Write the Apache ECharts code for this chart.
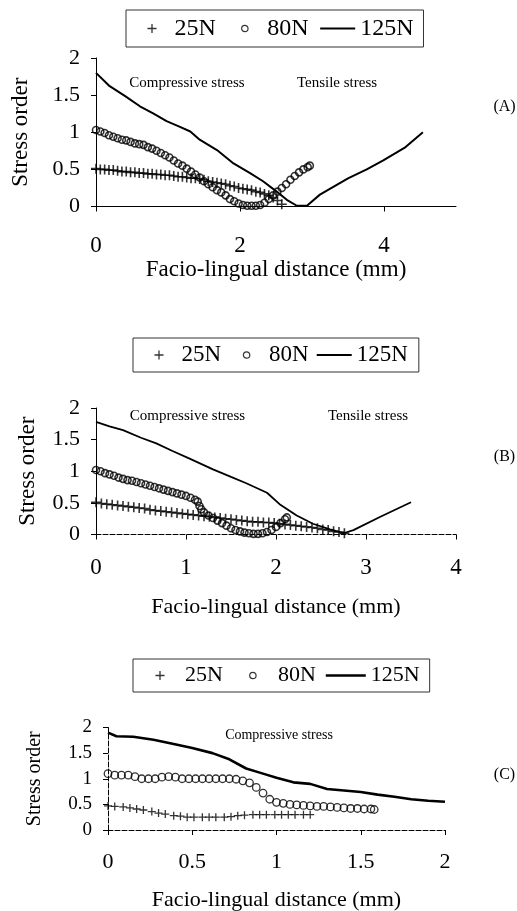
<!DOCTYPE html>
<html><head><meta charset="utf-8">
<script src="https://cdn.jsdelivr.net/npm/echarts@6/dist/echarts.min.js"></script>
<style>html,body{margin:0;padding:0;background:#fff}#c{width:517px;height:911px}</style>
</head><body><div id="c"></div>
<script>
const seriesNames = ['25N', '80N', '125N'];
const yTicks = [0, 0.5, 1, 1.5, 2];
const xTicksA = [0, 2, 4];
const xTicksB = [0, 1, 2, 3, 4];
const xTicksC = [0, 0.5, 1, 1.5, 2];
const panelLabels = ['(A)', '(B)', '(C)'];
const xTitle = 'Facio-lingual distance (mm)';
const yTitle = 'Stress order';
const noteComp = 'Compressive stress';
const noteTens = 'Tensile stress';

// Panel A
const a25 = [[0,0.51],[0.06,0.5],[0.12,0.5],[0.18,0.49],[0.24,0.49],[0.3,0.48],[0.36,0.47],[0.42,0.47],[0.48,0.46],[0.54,0.46],[0.6,0.45],[0.66,0.45],[0.72,0.44],[0.78,0.44],[0.84,0.43],[0.9,0.43],[0.96,0.42],[1.02,0.42],[1.08,0.41],[1.14,0.4],[1.2,0.4],[1.26,0.39],[1.32,0.38],[1.38,0.38],[1.44,0.37],[1.5,0.36],[1.56,0.34],[1.62,0.33],[1.68,0.32],[1.74,0.31],[1.8,0.3],[1.86,0.28],[1.92,0.27],[1.98,0.25],[2.04,0.24],[2.1,0.23],[2.16,0.22],[2.22,0.2],[2.28,0.19],[2.34,0.17],[2.4,0.15],[2.46,0.12],[2.52,0.08],[2.58,0.03]];
const a80 = [[0,1.03],[0.06,1.01],[0.12,0.99],[0.18,0.96],[0.24,0.94],[0.3,0.92],[0.36,0.9],[0.42,0.89],[0.48,0.87],[0.54,0.85],[0.6,0.84],[0.66,0.83],[0.72,0.8],[0.78,0.78],[0.84,0.75],[0.9,0.72],[0.96,0.69],[1.02,0.66],[1.08,0.62],[1.14,0.58],[1.2,0.55],[1.26,0.51],[1.32,0.47],[1.38,0.43],[1.44,0.39],[1.5,0.34],[1.56,0.3],[1.62,0.26],[1.68,0.22],[1.74,0.19],[1.8,0.15],[1.86,0.1],[1.92,0.07],[1.98,0.04],[2.04,0.02],[2.1,0.01],[2.16,0.01],[2.22,0.01],[2.28,0.02],[2.34,0.05],[2.4,0.1],[2.46,0.15],[2.52,0.2],[2.58,0.25],[2.64,0.3],[2.7,0.36],[2.76,0.41],[2.82,0.46],[2.88,0.5],[2.94,0.53],[2.97,0.55]];
const a125 = [[0,1.8],[0.19,1.62],[0.4,1.49],[0.61,1.35],[0.8,1.25],[0.98,1.15],[1.15,1.08],[1.31,1.01],[1.44,0.9],[1.68,0.76],[1.91,0.58],[2.14,0.45],[2.32,0.34],[2.51,0.2],[2.65,0.09],[2.79,0.01],[2.93,0.01],[3.11,0.16],[3.5,0.38],[3.76,0.5],[3.99,0.62],[4.3,0.8],[4.54,1.0]];

// Panel B
const b25 = [[0,0.51],[0.06,0.49],[0.12,0.48],[0.18,0.47],[0.24,0.46],[0.3,0.45],[0.36,0.44],[0.42,0.43],[0.48,0.42],[0.54,0.41],[0.6,0.39],[0.66,0.38],[0.72,0.37],[0.78,0.36],[0.84,0.35],[0.9,0.34],[0.96,0.33],[1.02,0.32],[1.08,0.31],[1.14,0.3],[1.2,0.29],[1.26,0.28],[1.32,0.27],[1.38,0.26],[1.44,0.25],[1.5,0.24],[1.56,0.23],[1.62,0.22],[1.68,0.21],[1.74,0.2],[1.8,0.2],[1.86,0.19],[1.92,0.19],[1.98,0.18],[2.04,0.17],[2.1,0.16],[2.16,0.15],[2.22,0.14],[2.28,0.13],[2.34,0.12],[2.4,0.11],[2.46,0.1],[2.52,0.08],[2.58,0.07],[2.64,0.05],[2.7,0.04],[2.76,0.02]];
const b80 = [[0,1.02],[0.05,1.0],[0.1,0.97],[0.15,0.95],[0.2,0.93],[0.25,0.9],[0.3,0.88],[0.35,0.86],[0.4,0.85],[0.45,0.83],[0.5,0.81],[0.55,0.79],[0.6,0.77],[0.65,0.75],[0.7,0.73],[0.75,0.71],[0.8,0.69],[0.85,0.67],[0.9,0.65],[0.95,0.63],[1.0,0.61],[1.05,0.58],[1.1,0.55],[1.13,0.52],[1.15,0.45],[1.17,0.4],[1.2,0.35],[1.25,0.3],[1.3,0.26],[1.35,0.22],[1.4,0.18],[1.45,0.14],[1.5,0.1],[1.55,0.07],[1.6,0.05],[1.65,0.03],[1.7,0.02],[1.75,0.01],[1.8,0.01],[1.85,0.02],[1.9,0.04],[1.95,0.07],[2.0,0.12],[2.05,0.18],[2.1,0.24],[2.12,0.27]];
const b125 = [[0,1.78],[0.15,1.71],[0.3,1.65],[0.5,1.53],[0.67,1.44],[0.85,1.32],[1.04,1.2],[1.3,1.03],[1.5,0.91],[1.67,0.81],[1.9,0.66],[2.04,0.48],[2.23,0.3],[2.41,0.17],[2.6,0.08],[2.75,0.02],[2.86,0.07],[3.16,0.28],[3.5,0.51]];

// Panel C
const c25 = [[0,0.47],[0.04,0.46],[0.09,0.45],[0.13,0.43],[0.17,0.41],[0.21,0.39],[0.26,0.36],[0.3,0.33],[0.34,0.31],[0.39,0.28],[0.43,0.27],[0.47,0.25],[0.51,0.25],[0.56,0.25],[0.6,0.25],[0.64,0.25],[0.69,0.25],[0.73,0.26],[0.77,0.28],[0.81,0.29],[0.86,0.3],[0.9,0.3],[0.94,0.3],[0.99,0.3],[1.03,0.3],[1.07,0.3],[1.11,0.3],[1.16,0.3],[1.2,0.3]];
const c80 = [[0,1.1],[0.04,1.07],[0.08,1.07],[0.12,1.07],[0.16,1.04],[0.2,1.0],[0.24,1.0],[0.28,1.0],[0.32,1.03],[0.36,1.04],[0.4,1.03],[0.44,1.0],[0.48,1.0],[0.52,1.0],[0.56,1.0],[0.6,1.0],[0.64,1.0],[0.68,1.0],[0.72,1.0],[0.76,0.99],[0.8,0.96],[0.84,0.92],[0.88,0.83],[0.92,0.72],[0.96,0.6],[1.0,0.54],[1.04,0.52],[1.08,0.5],[1.12,0.49],[1.16,0.48],[1.2,0.47],[1.24,0.46],[1.28,0.46],[1.32,0.45],[1.36,0.44],[1.4,0.43],[1.44,0.42],[1.48,0.42],[1.52,0.41],[1.56,0.41],[1.58,0.4]];
const c125 = [[0,1.9],[0.05,1.83],[0.15,1.82],[0.27,1.76],[0.39,1.68],[0.5,1.6],[0.62,1.5],[0.72,1.38],[0.82,1.2],[0.92,1.1],[1.0,1.02],[1.1,0.93],[1.2,0.9],[1.3,0.8],[1.4,0.77],[1.5,0.74],[1.6,0.69],[1.7,0.65],[1.8,0.6],[1.9,0.57],[2.0,0.55]];

const FONT = '"Liberation Serif", "Times New Roman", serif';
const plusSym = 'path://M5 0 L5 10 M0 5 L10 5';
// legend icons: invisible corner points give every icon the same w x 9 box
function box(w) { return 'M0 0 L0 0 M' + w + ' 9 L' + w + ' 9 '; }
function plusIcon(w) { const c = w / 2; return 'path://' + box(w) + 'M' + c + ' 0 L' + c + ' 9 M' + (c - 4.5) + ' 4.5 L' + (c + 4.5) + ' 4.5'; }
function circleIcon(w) { const c = w / 2, r = 3.2; return 'path://' + box(w) + 'M' + (c - r) + ' 4.5 A' + r + ' ' + r + ' 0 1 0 ' + (c + r) + ' 4.5 A' + r + ' ' + r + ' 0 1 0 ' + (c - r) + ' 4.5 Z'; }
function lineIcon(w) { return 'path://' + box(w) + 'M0 4.5 L' + w + ' 4.5'; }

const panels = [
  { grid: {left: 96, top: 58, width: 360, height: 148.5}, xMax: 5, xInt: 2, xTicks: xTicksA,
    xLab: 23, xMargin: 28, xNameGap: 49, xName: 23, yLab: 22, yNameGap: 64, yName: 23, axisDash: false,
    legend: {left: 126, top: 10, font: 24, iw: 35, gap: 9, pad: [6, 10, 6, 6], lw: 2},
    s: [a25, a80, a125], plus: 10, circ: 7, mw: 1.6, lw: 2,
    notes: [[noteComp, 187, 83], [noteTens, 337, 83]], noteSize: 15, lab: [504.5, 107] },
  { grid: {left: 96, top: 408, width: 360, height: 126.5}, xMax: 4, xInt: 1, xTicks: xTicksB,
    xLab: 23, xMargin: 22, xNameGap: 62, xName: 22, yLab: 22, yNameGap: 57, yName: 23, axisDash: true,
    legend: {left: 133, top: 338, font: 23, iw: 35, gap: 5.5, pad: [5, 11, 5, 6], lw: 2},
    s: [b25, b80, b125], plus: 10, circ: 7, mw: 1.6, lw: 1.8,
    notes: [[noteComp, 187.5, 416.5], [noteTens, 368, 416.5]], noteSize: 15, lab: [504.5, 456.5] },
  { grid: {left: 108, top: 727.5, width: 337, height: 102.5}, xMax: 2, xInt: 0.5, xTicks: xTicksC,
    xLab: 22, xMargin: 21, xNameGap: 59, xName: 22, yLab: 19, yNameGap: 63, yName: 20, axisDash: true,
    legend: {left: 133, top: 659, font: 22, iw: 40, gap: 7.5, pad: [5, 10, 5, 4.5], lw: 2.6},
    s: [c25, c80, c125], plus: 8, circ: 7.5, mw: 1.3, lw: 2.6,
    notes: [[noteComp, 279, 735]], noteSize: 14, lab: [504.5, 775] }
];

const option = {
  animation: false,
  backgroundColor: '#fff',
  grid: [], xAxis: [], yAxis: [], series: [], legend: [], graphic: []
};

panels.forEach((p, i) => {
  option.grid.push(Object.assign({outerBoundsMode: 'none', containLabel: false}, p.grid));
  const axLine = {show: true, lineStyle: {color: '#000', width: 1, type: p.axisDash ? [5, 2] : 'solid'}};
  option.xAxis.push({
    type: 'value', gridIndex: i, min: 0, max: p.xMax, interval: p.xInt,
    axisLine: axLine, splitLine: {show: false},
    axisTick: {show: true, length: 5, lineStyle: {color: '#000'}, customValues: p.xTicks},
    axisLabel: {color: '#000', fontFamily: FONT, fontSize: p.xLab, margin: p.xMargin, customValues: p.xTicks},
    name: xTitle, nameLocation: 'middle', nameGap: p.xNameGap,
    nameTextStyle: {color: '#000', fontFamily: FONT, fontSize: p.xName}
  });
  option.yAxis.push({
    type: 'value', gridIndex: i, min: 0, max: 2, interval: 0.5,
    axisLine: {show: true, lineStyle: {color: '#000', width: 1, type: i === 2 ? [5, 2] : 'solid'}},
    splitLine: {show: false},
    axisTick: {show: true, length: 5, lineStyle: {color: '#000'}, customValues: yTicks},
    axisLabel: {color: '#000', fontFamily: FONT, fontSize: p.yLab, margin: 16, customValues: yTicks},
    name: yTitle, nameLocation: 'middle', nameGap: p.yNameGap, nameRotate: 90,
    nameTextStyle: {color: '#000', fontFamily: FONT, fontSize: p.yName}
  });
  option.series.push({
    name: seriesNames[0], type: 'scatter', xAxisIndex: i, yAxisIndex: i, data: p.s[0],
    symbol: plusSym, symbolSize: p.plus, silent: true,
    itemStyle: {color: 'none', borderColor: '#000', borderWidth: p.mw}
  });
  option.series.push({
    name: seriesNames[1], type: 'scatter', xAxisIndex: i, yAxisIndex: i, data: p.s[1],
    symbol: 'circle', symbolSize: p.circ, silent: true,
    itemStyle: {color: 'none', borderColor: '#000', borderWidth: p.mw}
  });
  option.series.push({
    name: seriesNames[2], type: 'line', xAxisIndex: i, yAxisIndex: i, data: p.s[2],
    showSymbol: false, silent: true, lineStyle: {color: '#000', width: p.lw}, itemStyle: {color: '#000'}
  });
  const L = p.legend;
  option.legend.push({
    left: L.left, top: L.top, orient: 'horizontal', itemWidth: L.iw, itemHeight: 9, itemGap: L.gap,
    padding: L.pad, borderColor: '#333', borderWidth: 1, borderRadius: 0, symbolKeepAspect: true,
    selectedMode: false,
    textStyle: {color: '#000', fontFamily: FONT, fontSize: L.font, lineHeight: L.font + 1},
    data: [
      {name: seriesNames[0], icon: plusIcon(L.iw), itemStyle: {color: 'none', borderColor: '#000', borderWidth: 1.3}},
      {name: seriesNames[1], icon: circleIcon(L.iw), itemStyle: {color: 'none', borderColor: '#000', borderWidth: 1.2}},
      {name: seriesNames[2], icon: lineIcon(L.iw), itemStyle: {color: 'none', borderColor: '#000', borderWidth: L.lw}}
    ]
  });
  p.notes.forEach(n => {
    option.graphic.push({type: 'text', x: n[1], y: n[2], silent: true,
      style: {text: n[0], fill: '#000', font: p.noteSize + 'px ' + FONT, align: 'center', verticalAlign: 'middle'}});
  });
  option.graphic.push({type: 'text', x: p.lab[0], y: p.lab[1], silent: true,
    style: {text: panelLabels[i], fill: '#000', font: '16px ' + FONT, align: 'center', verticalAlign: 'middle'}});
});

const chart = echarts.init(document.getElementById('c'), null, {renderer: 'canvas'});
chart.setOption(option);
</script>
</body></html>
